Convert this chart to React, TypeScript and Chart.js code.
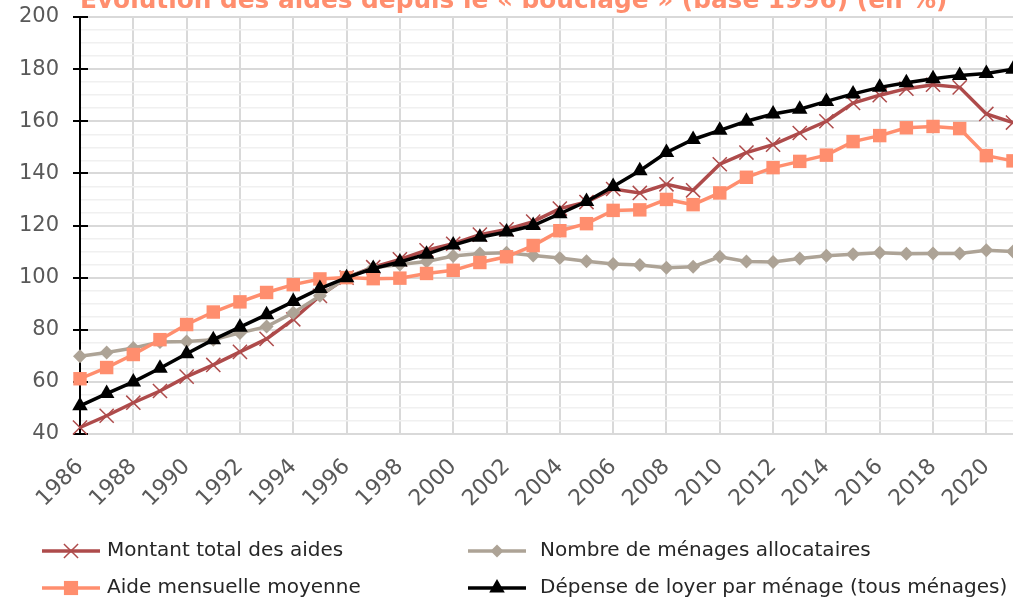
import React, { useEffect, useRef } from 'react';
import { Chart, registerables } from 'chart.js';

Chart.register(...registerables);

const years = [
  '1986', '1987', '1988', '1989', '1990', '1991', '1992', '1993', '1994', '1995',
  '1996', '1997', '1998', '1999', '2000', '2001', '2002', '2003', '2004', '2005',
  '2006', '2007', '2008', '2009', '2010', '2011', '2012', '2013', '2014', '2015',
  '2016', '2017', '2018', '2019', '2020', '2021',
];

const montantTotal = [
  42.5, 47, 52, 56.5, 62, 66.5, 71.5, 76.5, 84, 93,
  100, 104, 107, 110.5, 113, 116.5, 118.5, 121.5, 126.5, 129,
  134, 132.5, 135.8, 133.5, 143.5, 148, 151, 155.5, 160, 167,
  170, 172.5, 174, 173, 162.8, 159.5,
];

const nombreMenages = [
  69.8, 71.3, 73, 75.3, 75.5, 76.2, 78.8, 81.2, 86.5, 93,
  100, 103.8, 105, 106.2, 108.3, 109.3, 109.5, 108.5, 107.5, 106.3,
  105.2, 104.8, 103.8, 104.2, 108, 106.2, 106, 107.3, 108.4, 109,
  109.5, 109.2, 109.3, 109.3, 110.5, 110,
];

const aideMensuelle = [
  61.2, 65.5, 70.5, 76.2, 82, 86.8, 90.7, 94.3, 97.3, 99.5,
  100, 99.6, 99.8, 101.6, 102.8, 105.8, 108, 112.3, 118, 120.7,
  125.8, 126, 130, 128, 132.5, 138.5, 142.2, 144.6, 147, 152.2,
  154.5, 157.5, 158, 157.2, 146.8, 144.8,
];

const depenseLoyer = [
  50.8, 55.5, 60, 65.2, 70.8, 76.2, 81, 85.8, 90.8, 95.8,
  100, 103.5, 106, 109, 112.5, 115.5, 117.5, 120, 124.5, 129.2,
  135, 141, 148, 153, 156.5, 160, 162.8, 164.6, 167.6, 170.5,
  173, 174.8, 176.3, 177.6, 178.3, 180,
];

const yMin = 40;
const yMax = 200;
const yMajorStep = 20;
const yMinorStep = 5;

const titleText = 'Évolution des aides depuis le « bouclage » (base 1996) (en %)';

const seriesLabels = [
  'Montant total des aides',
  'Nombre de ménages allocataires',
  'Aide mensuelle moyenne',
  'Dépense de loyer par ménage (tous ménages)',
];

const RED = '#AE4B4B';
const GRAY = '#ADA396';
const SALMON = '#FF8E6E';
const BLACK = '#000000';
const FONT = '"DejaVu Sans", "Open Sans", sans-serif';
const OFFSET_Y = 30; // canvas is shifted up so the title is partly cut

type Marker = 'crossRot' | 'rect' | 'rectRot' | 'triangle';

function drawMarker(ctx: CanvasRenderingContext2D, style: Marker, x: number, y: number, r: number, color: string) {
  ctx.save();
  ctx.fillStyle = color;
  ctx.strokeStyle = color;
  ctx.beginPath();
  if (style === 'crossRot') {
    ctx.lineWidth = 1.5;
    const d = r * Math.SQRT1_2;
    ctx.moveTo(x - d, y - d);
    ctx.lineTo(x + d, y + d);
    ctx.moveTo(x + d, y - d);
    ctx.lineTo(x - d, y + d);
    ctx.stroke();
  } else if (style === 'rect') {
    const s = r * Math.SQRT1_2;
    ctx.rect(x - s, y - s, 2 * s, 2 * s);
    ctx.fill();
  } else if (style === 'rectRot') {
    ctx.moveTo(x, y - r);
    ctx.lineTo(x + r, y);
    ctx.lineTo(x, y + r);
    ctx.lineTo(x - r, y);
    ctx.closePath();
    ctx.fill();
  } else {
    const a = (2 * Math.PI) / 3;
    ctx.moveTo(x, y - r);
    ctx.lineTo(x + Math.sin(a) * r, y - Math.cos(a) * r);
    ctx.lineTo(x + Math.sin(2 * a) * r, y - Math.cos(2 * a) * r);
    ctx.closePath();
    ctx.fill();
  }
  ctx.restore();
}

const titlePlugin = {
  id: 'cutTitle',
  afterDraw(chart: any) {
    const ctx = chart.ctx as CanvasRenderingContext2D;
    ctx.save();
    ctx.font = `bold 24.8px ${FONT}`;
    ctx.fillStyle = SALMON;
    ctx.textAlign = 'left';
    ctx.textBaseline = 'alphabetic';
    ctx.fillText(titleText, chart.chartArea.left, OFFSET_Y + 8);
    ctx.restore();
  },
};

const innerTicksPlugin = {
  id: 'innerTicks',
  beforeDatasetsDraw(chart: any) {
    const ctx = chart.ctx as CanvasRenderingContext2D;
    const y = chart.scales.y;
    const left = chart.chartArea.left;
    ctx.save();
    ctx.strokeStyle = '#000';
    ctx.lineWidth = 2;
    for (let v = yMin; v <= yMax; v += yMajorStep) {
      const py = Math.round(y.getPixelForValue(v));
      ctx.beginPath();
      ctx.moveTo(left, py);
      ctx.lineTo(left + 8, py);
      ctx.stroke();
    }
    ctx.restore();
  },
};

const legendItems: { label: string; color: string; marker: Marker; r: number; col: number; row: number }[] = [
  { label: seriesLabels[0], color: RED, marker: 'crossRot', r: 10, col: 0, row: 0 },
  { label: seriesLabels[1], color: GRAY, marker: 'rectRot', r: 6.5, col: 1, row: 0 },
  { label: seriesLabels[2], color: SALMON, marker: 'rect', r: 10, col: 0, row: 1 },
  { label: seriesLabels[3], color: BLACK, marker: 'triangle', r: 9, col: 1, row: 1 },
];

const legendPlugin = {
  id: 'gridLegend',
  afterDraw(chart: any) {
    const ctx = chart.ctx as CanvasRenderingContext2D;
    const colLineX = [42, 468];
    const colTextX = [107, 540];
    const rowY = [551 + OFFSET_Y, 588 + OFFSET_Y];
    ctx.save();
    for (const it of legendItems) {
      const x0 = colLineX[it.col];
      const y0 = rowY[it.row];
      ctx.strokeStyle = it.color;
      ctx.lineWidth = 3.5;
      ctx.beginPath();
      ctx.moveTo(x0, y0);
      ctx.lineTo(x0 + 58, y0);
      ctx.stroke();
      drawMarker(ctx, it.marker, x0 + 29, y0, it.r, it.color);
      ctx.font = `20px ${FONT}`;
      ctx.fillStyle = '#262626';
      ctx.textAlign = 'left';
      ctx.textBaseline = 'middle';
      ctx.fillText(it.label, colTextX[it.col], y0);
    }
    ctx.restore();
  },
};

export default function App() {
  const ref = useRef<HTMLCanvasElement>(null);

  useEffect(() => {
    document.body.style.margin = '0';
    const canvas = ref.current;
    if (!canvas) return;
    const isMajor = (v: number) => v % yMajorStep === 0;
    const chart = new Chart(canvas, {
      type: 'line',
      data: {
        labels: years,
        datasets: [
          {
            label: seriesLabels[0],
            data: montantTotal,
            borderColor: RED,
            backgroundColor: RED,
            borderWidth: 3.5,
            pointStyle: 'crossRot',
            pointRadius: 10,
            pointBorderWidth: 1.5,
            pointBorderColor: RED,
            order: 4,
            clip: false,
          },
          {
            label: seriesLabels[1],
            data: nombreMenages,
            borderColor: GRAY,
            backgroundColor: GRAY,
            borderWidth: 3.5,
            pointStyle: 'rectRot',
            pointRadius: 7,
            pointBorderWidth: 0,
            pointBackgroundColor: GRAY,
            order: 3,
            clip: false,
          },
          {
            label: seriesLabels[2],
            data: aideMensuelle,
            borderColor: SALMON,
            backgroundColor: SALMON,
            borderWidth: 3.5,
            pointStyle: 'rect',
            pointRadius: 9.5,
            pointBorderWidth: 0,
            pointBackgroundColor: SALMON,
            order: 2,
            clip: false,
          },
          {
            label: seriesLabels[3],
            data: depenseLoyer,
            borderColor: BLACK,
            backgroundColor: BLACK,
            borderWidth: 3.5,
            pointStyle: 'triangle',
            pointRadius: 9,
            pointBorderWidth: 0,
            pointBackgroundColor: BLACK,
            order: 1,
            clip: false,
          },
        ],
      },
      options: {
        animation: false,
        responsive: false,
        devicePixelRatio: 1,
        layout: { padding: { top: 17 + OFFSET_Y, right: 27, left: 0, bottom: 0 } },
        plugins: {
          legend: { display: false },
          title: { display: false },
          tooltip: { enabled: false },
        },
        scales: {
          x: {
            type: 'category',
            ticks: {
              autoSkip: false,
              maxRotation: 45,
              minRotation: 45,
              color: '#595959',
              font: { family: FONT, size: 22 },
              padding: 20,
              callback: function (this: any, v: any, i: number) {
                return i % 2 === 0 ? this.getLabelForValue(v) : '';
              },
            },
            grid: {
              color: (c: any) => (c.index % 2 === 0 ? '#d9d9d9' : 'rgba(0,0,0,0)'),
              lineWidth: 2,
              drawTicks: false,
            },
            border: { color: '#d9d9d9', width: 2 },
            afterFit: (s: any) => {
              s.height = 166;
              s.paddingRight = 0;
              s.paddingLeft = 0;
            },
          },
          y: {
            min: yMin,
            max: yMax,
            ticks: {
              stepSize: yMinorStep,
              autoSkip: false,
              color: '#595959',
              font: { family: FONT, size: 21 },
              padding: 14,
              callback: (v: any) => (isMajor(Number(v)) ? String(v) : ''),
            },
            grid: {
              color: (c: any) => (c.tick && isMajor(c.tick.value) ? '#d9d9d9' : '#f0f0f0'),
              lineWidth: (c: any) => (c.tick && isMajor(c.tick.value) ? 2 : 1.5),
              tickColor: (c: any) => (c.tick && isMajor(c.tick.value) ? '#000' : 'rgba(0,0,0,0)'),
              tickLength: 7,
              tickWidth: 2,
            },
            border: { color: '#000', width: 2 },
            afterFit: (s: any) => {
              s.width = 80;
            },
          },
        },
      },
      plugins: [innerTicksPlugin, titlePlugin, legendPlugin],
    } as any);
    return () => chart.destroy();
  }, []);

  return (
    <div
      style={{
        position: 'fixed',
        left: 0,
        top: 0,
        width: 1013,
        height: 600,
        overflow: 'hidden',
        background: '#fff',
      }}
    >
      <canvas
        ref={ref}
        width={1040}
        height={600 + OFFSET_Y}
        style={{ position: 'absolute', left: 0, top: -OFFSET_Y, width: 1040, height: 600 + OFFSET_Y }}
      />
    </div>
  );
}
